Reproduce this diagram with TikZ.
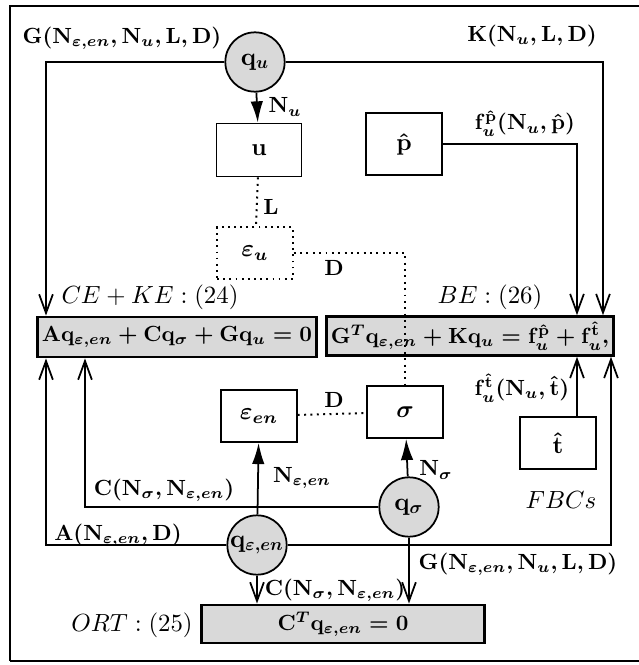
\documentclass[tikz,border=0pt]{standalone}
\usepackage{amsmath}
\usepackage{fix-cm}
\usetikzlibrary{positioning,arrows.meta,calc}

\tikzset{
  eqbox/.style={draw, line width=1.3pt, fill=gray!30, inner sep=2pt, font=\boldmath},
  varbox/.style={draw, line width=0.8pt, minimum width=1.21cm, minimum height=0.83cm, font=\boldmath\fontsize{11}{13}\selectfont},
  dofcirc/.style={circle, draw, line width=0.8pt, fill=gray!30, minimum size=0.95cm, inner sep=0pt, font=\boldmath\fontsize{11.5}{13}\selectfont},
  lab/.style={font=\boldmath, inner sep=1pt},
  eqname/.style={font=\fontsize{11.3}{13}\selectfont, inner sep=1pt},
  barb/.style={line width=0.8pt, -{Straight Barb[length=3mm,width=2.2mm]}},
  tri/.style={line width=0.8pt, -{Latex[length=3.4mm,width=2mm]}},
  dotline/.style={line width=0.9pt, dotted}
}

\begin{document}
\begin{tikzpicture}[x=0.016cm, y=-0.016cm]
\useasboundingbox (0,0) rectangle (639,665);

\draw[line width=0.8pt] (639,6) -- (10,6) -- (10,661);
\draw[line width=1.2pt] (10,661) -- (639,661);

% x-positions of the vertical runs
\coordinate (xg) at (46,0);
\coordinate (xc) at (85,0);
\coordinate (xp) at (577,0);
\coordinate (xk) at (603,0);
\coordinate (xt) at (611,0);

% unknowns
\node[dofcirc] (qu) at (255,62) {$\mathbf{q}_u$};
\node[dofcirc] (qs) at (409,507) {$\mathbf{q}_\sigma$};
\node[dofcirc] (qe) at (257,545) {$\mathbf{q}_{\varepsilon,en}$};

% fields
\node[varbox, minimum width=1.36cm, minimum height=0.85cm] (u) at (259,150) {$\mathbf{u}$};
\node[varbox, dotted] (epsu) at (255,253) {$\varepsilon_u$};
\node[varbox, minimum height=0.99cm] (phat) at (404,144) {$\hat{\mathbf{p}}$};
\node[varbox] (epsen) at (259,416) {$\varepsilon_{en}$};
\node[varbox] (sig) at (405,412) {$\sigma$};
\node[varbox] (that) at (558,443) {$\hat{\mathbf{t}}$};

% equations
\node[eqbox, minimum width=4.46cm, minimum height=0.64cm] (ce) at (177,337)
  {$\mathbf{A}\mathbf{q}_{\varepsilon,en}+\mathbf{C}\mathbf{q}_\sigma+\mathbf{G}\mathbf{q}_u=\mathbf{0}$};
\node[eqbox, minimum width=4.58cm, minimum height=0.62cm] (be) at (470,336)
  {$\mathbf{G}^T\mathbf{q}_{\varepsilon,en}+\mathbf{K}\mathbf{q}_u=\mathbf{f}_u^{\hat{\mathbf{p}}}+\mathbf{f}_u^{\hat{\mathbf{t}}},$};
\node[eqbox, minimum width=4.53cm, minimum height=0.61cm] (ort) at (343,624)
  {$\mathbf{C}^T\mathbf{q}_{\varepsilon,en}=\mathbf{0}$};

\node[eqname] at (150,297) {$CE+KE:(24)$};
\node[eqname] at (490,297) {$BE:(26)$};
\node[eqname] at (132,625) {$ORT:(25)$};
\node[eqname] at (561,500) {$FBCs$};

% connectors
\draw[barb] (qu.west) -| (ce.north -| xg);
\draw[barb] (qu.east) -| (be.north -| xk);
\draw[tri] (qu) -- (u);
\draw[dotline] (u) -- (epsu);
\draw[barb] (phat.east) -| (be.north -| xp);
\draw[barb] (that.north -| xp) -- (be.south -| xp);
\draw[dotline] (epsen) -- (sig);
\draw[tri] (qe) -- (epsen);
\draw[tri] (qs) -- (sig);
\draw[barb] (qs.west) -| (ce.south -| xc);
\draw[barb] (qe.west) -| (ce.south -| xg);
\draw[barb] (qe.east) -| (be.south -| xt);
\draw[barb] (qe.south) -- (qe |- ort.north);
\draw[barb] (qs.south) -- (qs |- ort.north);
\draw[dotline] (epsu.east) -| (sig.north);

\node[lab] at (122,38) {$\mathbf{G}(\mathbf{N}_{\varepsilon,en},\mathbf{N}_u,\mathbf{L},\mathbf{D})$};
\node[lab] at (532,36) {$\mathbf{K}(\mathbf{N}_u,\mathbf{L},\mathbf{D})$};
\node[lab] at (285,107) {$\mathbf{N}_u$};
\node[lab] at (271,207) {$\mathbf{L}$};
\node[lab] at (525,124) {$\mathbf{f}_u^{\hat{\mathbf{p}}}(\mathbf{N}_u,\hat{\mathbf{p}})$};
\node[lab] at (334,268) {$\mathbf{D}$};
\node[lab] at (522,388) {$\mathbf{f}_u^{\hat{\mathbf{t}}}(\mathbf{N}_u,\hat{\mathbf{t}})$};
\node[lab] at (334,400) {$\mathbf{D}$};
\node[lab] at (302,478) {$\mathbf{N}_{\varepsilon,en}$};
\node[lab] at (164,490) {$\mathbf{C}(\mathbf{N}_\sigma,\mathbf{N}_{\varepsilon,en})$};
\node[lab] at (436,470) {$\mathbf{N}_\sigma$};
\node[lab] at (118,535) {$\mathbf{A}(\mathbf{N}_{\varepsilon,en},\mathbf{D})$};
\node[lab] at (518,564) {$\mathbf{G}(\mathbf{N}_{\varepsilon,en},\mathbf{N}_u,\mathbf{L},\mathbf{D})$};
\node[lab] at (335,590) {$\mathbf{C}(\mathbf{N}_\sigma,\mathbf{N}_{\varepsilon,en})$};

\end{tikzpicture}
\end{document}
